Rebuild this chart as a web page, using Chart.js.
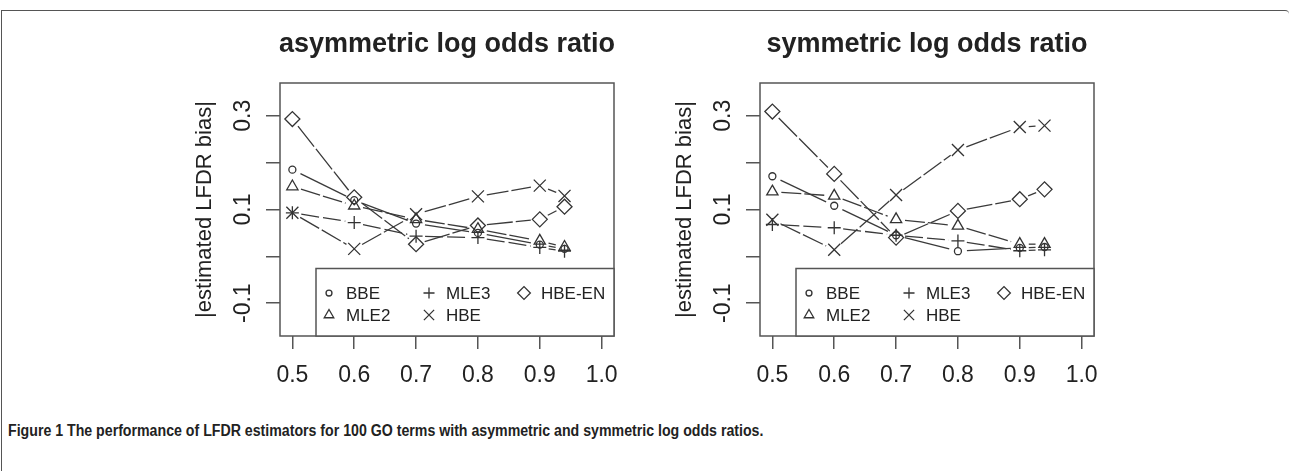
<!DOCTYPE html>
<html>
<head>
<meta charset="utf-8">
<script src="https://cdn.jsdelivr.net/npm/chart.js@4.4.1/dist/chart.umd.min.js"></script>
<style>
	body { margin: 0; background: #fff; width: 1291px; height: 471px; overflow: hidden; position: relative; }
	.frame { position: absolute; left: 1px; top: 10px; width: 1287px; height: 470px; border-top: 1.5px solid #555; border-left: 1.5px solid #555; border-top-right-radius: 4px; }
	.panel { position: absolute; top: 0; width: 470px; height: 400px; }
	#caption { position: absolute; left: 8px; top: 422px; font: bold 16px "Liberation Sans", Arial, sans-serif; color: #222; white-space: nowrap; transform: scaleX(0.885); transform-origin: left top; }
</style>
</head>
<body>
<div class="frame"></div>
<div class="panel" style="left:170px"><canvas id="asymChart" width="470" height="400"></canvas></div>
<div class="panel" style="left:650px"><canvas id="symChart" width="470" height="400"></canvas></div>
<div id="caption">Figure 1 The performance of LFDR estimators for 100 GO terms with asymmetric and symmetric log odds ratios.</div>
<script>
// proportions of non-enriched GO terms (x positions of the points)
const xValues = [0.5, 0.6, 0.7, 0.8, 0.9, 0.94];
const xTicks = [0.5, 0.6, 0.7, 0.8, 0.9, 1.0];
const yTicks = [-0.1, 0, 0.1, 0.2, 0.3];
const yLabelled = [-0.1, 0.1, 0.3];
const seriesNames = ["BBE", "MLE2", "MLE3", "HBE", "HBE-EN"];

// asymmetric log odds ratio
const asymBBE = [0.185, 0.120, 0.070, 0.050, 0.025, 0.016];
const asymMLE2 = [0.149, 0.108, 0.079, 0.058, 0.033, 0.020];
const asymMLE3 = [0.093, 0.072, 0.043, 0.040, 0.019, 0.011];
const asymHBE = [0.093, 0.016, 0.090, 0.128, 0.151, 0.129];
const asymHBEEN = [0.293, 0.126, 0.026, 0.066, 0.079, 0.106];

// symmetric log odds ratio
const symBBE = [0.171, 0.108, 0.045, 0.011, 0.018, 0.020];
const symMLE2 = [0.138, 0.129, 0.079, 0.065, 0.026, 0.026];
const symMLE3 = [0.068, 0.061, 0.045, 0.033, 0.012, 0.014];
const symHBE = [0.078, 0.014, 0.131, 0.227, 0.276, 0.279];
const symHBEEN = [0.309, 0.176, 0.040, 0.097, 0.122, 0.143];

const FONT = "'Liberation Sans', Arial, sans-serif";
const INK = "#222";
const AXIS = "#555";

// marker look per series (R pch 1, 2, 3, 4, 5)
const markers = {
	"BBE": { style: "circle", r: 3.5 },
	"MLE2": { style: "triangle", r: 6.5 },
	"MLE3": { style: "cross", r: 6.5 },
	"HBE": { style: "crossRot", r: 8.5 },
	"HBE-EN": { style: "rectRot", r: 7.5 }
};
const dashes = {
	"BBE": [],
	"MLE2": [20, 3],
	"MLE3": [18, 4],
	"HBE": [22, 3],
	"HBE-EN": [26, 3]
};

// R type="b": segments stop short of the points
const gapLines = {
	id: "gapLines",
	beforeDatasetsDraw(chart) {
		const ctx = chart.ctx;
		const gap = 9;
		ctx.save();
		ctx.strokeStyle = "#3a3a3a";
		ctx.lineWidth = 1.3;
		chart.data.datasets.forEach((ds, i) => {
			const pts = chart.getDatasetMeta(i).data;
			ctx.setLineDash(dashes[ds.label]);
			for (let k = 0; k < pts.length - 1; k++) {
				const a = pts[k], b = pts[k + 1];
				const dx = b.x - a.x, dy = b.y - a.y;
				const len = Math.sqrt(dx * dx + dy * dy);
				if (len <= gap * 2) continue;
				const ux = dx / len, uy = dy / len;
				ctx.beginPath();
				ctx.moveTo(a.x + ux * gap, a.y + uy * gap);
				ctx.lineTo(b.x - ux * gap, b.y - uy * gap);
				ctx.stroke();
			}
		});
		ctx.restore();
	}
};

// box, titles and the legend inside the bottom right corner
const decorations = {
	id: "decorations",
	afterDraw(chart) {
		const ctx = chart.ctx;
		const area = chart.chartArea;
		const cx = (area.left + area.right) / 2;
		ctx.save();
		ctx.strokeStyle = AXIS;
		ctx.lineWidth = 1.5;
		ctx.setLineDash([]);
		ctx.strokeRect(area.left, area.top, area.right - area.left, area.bottom - area.top);

		ctx.fillStyle = INK;
		ctx.textAlign = "center";
		ctx.textBaseline = "middle";
		ctx.font = "bold 27px " + FONT;
		ctx.fillText(chart.options.plugins.decorations.title, cx, 45);
		ctx.font = "22px " + FONT;
		ctx.fillText("proportion of non-enriched GO terms", cx, 412);
		ctx.save();
		ctx.translate(area.left - 75, (area.top + area.bottom) / 2);
		ctx.rotate(-Math.PI / 2);
		ctx.fillText("|estimated LFDR bias|", 0, 0);
		ctx.restore();

		// legend
		const lw = 298, lh = 67.5;
		const lx = area.right - lw, ly = area.bottom - lh;
		ctx.fillStyle = "#fff";
		ctx.fillRect(lx, ly, lw, lh);
		ctx.strokeRect(lx, ly, lw, lh);
		const cols = [13, 113, 208];
		const rows = [24.5, 46.5];
		ctx.font = "17px " + FONT;
		ctx.textAlign = "left";
		seriesNames.forEach((name, i) => {
			const col = Math.floor(i / 2), row = i % 2;
			const px = lx + cols[col], py = ly + rows[row];
			const m = markers[name];
			ctx.strokeStyle = "#333";
			ctx.fillStyle = "rgba(0,0,0,0)";
			ctx.lineWidth = 1.3;
			Chart.helpers.drawPoint(ctx, { pointStyle: m.style, radius: m.r * 0.85, borderWidth: 1.3, rotation: 0 }, px, py);
			ctx.fillStyle = INK;
			ctx.fillText(name, px + 17, py + 1);
		});
		ctx.restore();
	}
};

function makeChart(id, title, values) {
	const datasets = seriesNames.map((name, i) => ({
		label: name,
		data: xValues.map((x, k) => ({ x: x, y: values[i][k] })),
		showLine: false,
		pointStyle: markers[name].style,
		pointRadius: markers[name].r,
		pointBorderWidth: 1.3,
		pointBorderColor: "#333",
		pointBackgroundColor: "rgba(0,0,0,0)"
	}));
	return new Chart(document.getElementById(id), {
		type: "scatter",
		data: { datasets: datasets },
		plugins: [gapLines, decorations],
		options: {
			responsive: false,
			animation: false,
			events: [],
			layout: { padding: { top: 83, right: 26, left: 0, bottom: 0 } },
			plugins: {
				legend: { display: false },
				tooltip: { enabled: false },
				decorations: { title: title }
			},
			scales: {
				x: {
					type: "linear",
					min: 0.48,
					max: 1.02,
					afterBuildTicks: (scale) => { scale.ticks = xTicks.map((v) => ({ value: v })); },
					afterFit: (scale) => { scale.height = 64; },
					grid: { drawOnChartArea: false, drawTicks: true, tickLength: 13, color: AXIS, lineWidth: 1.5 },
					border: { display: false },
					ticks: {
						padding: 13,
						color: INK,
						font: { family: FONT, size: 23 },
						callback: (v) => v.toFixed(1)
					}
				},
				y: {
					type: "linear",
					min: -0.17,
					max: 0.37,
					afterBuildTicks: (scale) => { scale.ticks = yTicks.map((v) => ({ value: v })); },
					afterFit: (scale) => { scale.width = 110; },
					grid: { drawOnChartArea: false, drawTicks: true, tickLength: 14, color: AXIS, lineWidth: 1.5 },
					border: { display: false },
					ticks: {
						padding: 3,
						minRotation: 90,
						maxRotation: 90,
						crossAlign: "center",
						color: INK,
						font: { family: FONT, size: 23 },
						callback: (v) => (yLabelled.some((t) => Math.abs(t - v) < 1e-9) ? v.toFixed(1) : "")
					}
				}
			}
		}
	});
}

makeChart("asymChart", "asymmetric log odds ratio", [asymBBE, asymMLE2, asymMLE3, asymHBE, asymHBEEN]);
makeChart("symChart", "symmetric log odds ratio", [symBBE, symMLE2, symMLE3, symHBE, symHBEEN]);
</script>
</body>
</html>
